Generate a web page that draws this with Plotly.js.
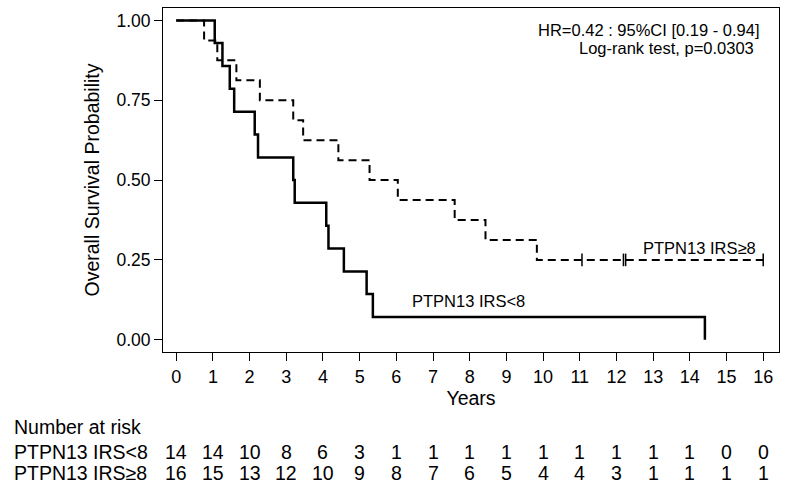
<!DOCTYPE html>
<html>
<head>
<meta charset="utf-8">
<script src="https://cdn.plot.ly/plotly-3.0.1.min.js"></script>
<style>html,body{margin:0;padding:0;background:#fff;}#chart{width:787px;height:490px;}</style>
</head>
<body>
<div id="chart"></div>
<script>
// Kaplan-Meier steps
const lowTimes = [0, 1.05, 1.26, 1.46, 1.58, 2.14, 2.23, 3.19, 3.23, 4.09, 4.15, 4.57, 5.19, 5.36, 14.41];
const lowSurv  = [1, 0.929, 0.857, 0.786, 0.714, 0.643, 0.571, 0.5, 0.429, 0.357, 0.286, 0.214, 0.143, 0.071, 0];

const highTimes = [0, 0.76, 1.12, 1.64, 2.28, 3.19, 3.46, 4.42, 5.27, 6.04, 7.59, 8.43, 9.83, 16.0];
const highSurv  = [1, 0.9375, 0.875, 0.8125, 0.75, 0.6875, 0.625, 0.5625, 0.5, 0.4375, 0.375, 0.3125, 0.25, 0.25];

const highCensorTimes = [11.06, 12.19, 12.25, 16.0];
const highCensorSurv  = [0.25, 0.25, 0.25, 0.25];

// Number at risk table
const riskYears = [0,1,2,3,4,5,6,7,8,9,10,11,12,13,14,15,16];
const riskLow  = [14,14,10,8,6,3,1,1,1,1,1,1,1,1,1,0,0];
const riskHigh = [16,15,13,12,10,9,8,7,6,5,4,4,3,1,1,1,1];

const groupLow = "PTPN13 IRS<8";
const groupHigh = "PTPN13 IRS≥8";
const yTickVals = [0, 0.25, 0.5, 0.75, 1];
const yTickText = ["0.00", "0.25", "0.50", "0.75", "1.00"];

const FONT = "Liberation Sans, Arial, Helvetica, sans-serif";

const traces = [
  {x: highTimes, y: highSurv, mode: "lines", line: {shape: "hv", color: "#000", width: 2, dash: "8px,5px"}, name: groupHigh, hoverinfo: "skip"},
  {x: highCensorTimes, y: highCensorSurv, mode: "markers", marker: {symbol: "line-ns-open", size: 9, color: "#000", line: {color: "#000", width: 1.5}}, hoverinfo: "skip"},
  {x: lowTimes, y: lowSurv, mode: "lines", line: {shape: "hv", color: "#000", width: 2.5}, name: groupLow, hoverinfo: "skip"}
];

const annotations = [
  {xref: "paper", yref: "paper", x: 0.972, y: 0.935, xanchor: "right", yanchor: "middle", text: "HR=0.42 : 95%CI [0.19 - 0.94]", showarrow: false, font: {family: FONT, size: 16.5, color: "#000"}},
  {xref: "paper", yref: "paper", x: 0.962, y: 0.885, xanchor: "right", yanchor: "middle", text: "Log-rank test, p=0.0303", showarrow: false, font: {family: FONT, size: 16.5, color: "#000"}},
  {xref: "x", yref: "y", x: 7.96, y: 0.12, xanchor: "center", yanchor: "middle", text: groupLow, showarrow: false, font: {family: FONT, size: 16.5, color: "#000"}},
  {xref: "x", yref: "y", x: 14.25, y: 0.288, xanchor: "center", yanchor: "middle", text: groupHigh, showarrow: false, font: {family: FONT, size: 16.5, color: "#000"}},
  {xref: "paper", yref: "paper", x: -0.245, y: -0.218, xanchor: "left", yanchor: "middle", text: "Number at risk", showarrow: false, font: {family: FONT, size: 19.5, color: "#000"}},
  {xref: "paper", yref: "paper", x: -0.245, y: -0.291, xanchor: "left", yanchor: "middle", text: groupLow, showarrow: false, font: {family: FONT, size: 19.5, color: "#000"}},
  {xref: "paper", yref: "paper", x: -0.245, y: -0.352, xanchor: "left", yanchor: "middle", text: groupHigh, showarrow: false, font: {family: FONT, size: 19.5, color: "#000"}}
];
riskYears.forEach((yr, i) => {
  annotations.push({xref: "x", yref: "paper", x: yr, y: -0.291, xanchor: "center", yanchor: "middle", text: String(riskLow[i]), showarrow: false, font: {family: FONT, size: 19.5, color: "#000"}});
  annotations.push({xref: "x", yref: "paper", x: yr, y: -0.352, xanchor: "center", yanchor: "middle", text: String(riskHigh[i]), showarrow: false, font: {family: FONT, size: 19.5, color: "#000"}});
});

const layout = {
  width: 787, height: 490,
  margin: {l: 163, r: 8, t: 8, b: 138, pad: 0},
  paper_bgcolor: "#fff", plot_bgcolor: "#fff",
  showlegend: false,
  font: {family: FONT, color: "#000"},
  xaxis: {
    range: [-0.36, 16.43], tickmode: "array", tickvals: riskYears,
    ticks: "outside", ticklen: 8, tickwidth: 1, tickcolor: "#000",
    showline: true, linecolor: "#000", linewidth: 1, mirror: true,
    showgrid: false, zeroline: false,
    tickfont: {family: FONT, size: 18, color: "#000"},
    title: {text: "Years", font: {family: FONT, size: 19.5, color: "#000"}, standoff: 3}
  },
  yaxis: {
    range: [-0.0385, 1.039], tickmode: "array", tickvals: yTickVals, ticktext: yTickText,
    ticks: "outside", ticklen: 8, tickwidth: 1, tickcolor: "#000",
    showline: true, linecolor: "#000", linewidth: 1, mirror: true,
    showgrid: false, zeroline: false,
    tickfont: {family: FONT, size: 17.5, color: "#000"},
    title: {text: "Overall Survival Probability", font: {family: FONT, size: 19.5, color: "#000"}, standoff: 11}
  },
  annotations: annotations
};

Plotly.newPlot("chart", traces, layout, {staticPlot: true, displayModeBar: false});
</script>
</body>
</html>
